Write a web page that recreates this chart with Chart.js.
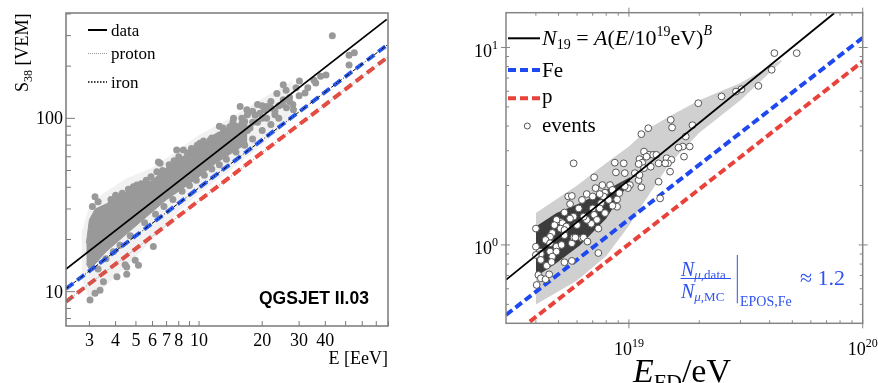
<!DOCTYPE html>
<html><head><meta charset="utf-8">
<script src="https://cdn.jsdelivr.net/npm/chart.js@4"></script>
<style>
html,body{margin:0;padding:0;background:#fff;width:878px;height:383px;overflow:hidden}
#l{position:absolute;left:0;top:0}
#r{position:absolute;left:440px;top:0}
</style></head>
<body>
<canvas id="l" width="440" height="383"></canvas>
<canvas id="r" width="438" height="383"></canvas>
<script>
// ---------------- LEFT PANEL DATA (E in EeV, S38 in VEM) ----------------
const leftLineE   = [2.32, 78.5];
const leftDataS   = [13.5, 372];
const leftIronE   = [2.32, 79.6];
const leftIronS   = [10.4, 267];
const leftProtE   = [2.32, 79.6];
const leftProtS   = [8.76, 226];
// dense core of the event cloud (upper / lower edge on a common E grid)
const cloudE   = [2.9, 3.0, 3.2, 3.6, 4.2, 5.0, 6.0, 7.0, 8.0, 9.0, 10, 12, 14, 17];
const cloudHi  = [19, 26, 30, 32, 36, 40, 44, 52, 58, 64, 70, 77, 86, 98];
const cloudLo  = [14.5, 13.5, 14.5, 17, 20, 24, 29, 34, 38, 42, 46, 55, 62, 72];
// faint error-bar halo around the cloud
const haloE    = [2.75, 3.0, 3.5, 4.5, 6, 8, 10, 14, 20, 28];
const haloHi   = [22, 31, 37, 45, 52, 66, 80, 100, 130, 165];
const haloLo   = [12, 9, 10.5, 14, 20, 29, 37, 50, 70, 100];
// individual (sparse) events
const sparseE = [43.2,51.9,55.0,51.9,40.3,35.3,30.1,25.2,23.5,25.2,28.2,26.1,21.0,19.5,16.9,15.7,14.6,14.0,12.1,11.3,10.1,8.41,7.82,6.52,6.29,5.05,4.86,3.19,3.25,3.02,3.19,3.37,4.52,5.14,6.05,4.06,3.5,6.40,4.96,4.44,4.52,18,20,22,24,27,17.5,19,23,16,13,12.5,11,9.5,26,29,32,
  3.1,3.3,3.5,3.8,4.0,4.3,4.6,5.3,5.6,5.9,6.7,7.2,7.6,8.0,8.8,9.2,9.8,10.5,11.5,12.5,13.5,15,16.5,18.5,20.5,22,17,14.5,13,
  3.3,3.6,3.9,4.2,4.7,5.5,6.2,6.8,7.5,8.3,9.0,9.7,10.6,11.5,12.5,13.5,15,16.5,18,20,22,24,
  15.5,17,19,21,23,18,20,16,25,27,30,28,33,36,38];
const sparseS = [299,231,239,203,178,166,164,156,139,128,112,115,117,107,112,117,100,89.5,78.3,74.9,71.7,65.6,65.6,55,49.2,41.2,40.3,35.3,28.3,8.96,9.79,10.2,13.9,14.2,18.2,12.2,11.4,56,15.2,14.3,12.6,95,100,125,118,132,88,120,105,93,82,90,62,58,145,150,140,
  31,33,30,34,36,37,39,42,44,46,50,54,57,60,63,67,70,74,77,80,84,90,96,104,112,115,105,95,88,
  13.5,15.5,17,18.5,21,25,28,31,34,38,41,44,47,51,54,58,64,70,76,85,92,100,
  80,85,95,100,110,110,118,100,120,125,135,120,150,160,175];
const leftYMajor = [10, 100];
const leftYMinor = [7,8,9,20,30,40,50,60,70,80,90,200,300,400];
const leftXTicks = [3,4,5,6,7,8,9,10,20,30,40,50,60,70,80];
const leftXLabels = [3,4,5,6,7,8,10,20,30,40];
const leftYLabels = [10, 100];
const leftLegend = ['data', 'proton', 'iron'];

// ---------------- RIGHT PANEL DATA (E in EeV -> eV, N19) ----------------
const fitE = [2.98, 75.5];  const fitN = [0.665, 14.9];
const feE  = [2.98, 100];   const feN  = [0.442, 11.2];
const pE   = [3.77, 100];   const pN   = [0.409, 8.5];
const evE = [41.9,52.2,40.8,35.8,30.3,28.7,24.9,19.8,18.7,15.1,
  15.3,17.5,17.0,18.2,16.3,17.2,14.5,15.2,14.7,15.0,
  12.1,11.3,11.6,12.2,12.7,13.1,11.9,11.1,11.4,11.0,
  13.4,14.3,12.4,11.6,10.6,11.0,11.1,13.4,10.1,9.9,
  9.6,9.5,8.7,8.8,9.6,7.1,7.2,7.7,8.3,8.5,
  5.8,8.9,9.1,8.9,8.5,7.9,7.8,7.5,7.6,8.2,
  6.6,7.0,6.3,5.5,5.7,5.6,5.3,6.1,7.0,7.5,
  7.9,7.1,7.3,7.4,6.9,6.6,6.4,6.0,5.8,5.6,
  5.1,5.2,4.9,4.8,5.1,5.4,5.3,4.7,4.6,4.4,
  4.6,4.9,4.6,4.9,4.16,4.7,4.2,4.45,4.2,4.0,
  4.0,4.03,4.1,4.2,4.4,4.56,4.67,5.3,5.7,5.7,
  5.8,5.9,6.3,6.4,6.65,7.4,5.15,5.3,11.3,13.6,
  4.0];
const evN = [9.36,9.36,7.71,6.39,6.15,5.98,5.65,5.22,4.04,4.30,
  3.93,3.54,3.15,3.15,3.11,2.80,2.75,2.70,2.59,2.35,
  3.90,3.64,2.97,2.86,2.86,2.86,2.80,2.72,2.61,2.57,
  2.59,2.59,2.49,2.45,2.31,2.13,2.26,2.09,2.01,1.94,
  1.98,2.59,2.61,2.33,2.31,2.20,1.94,2.01,2.01,1.90,
  2.59,1.70,1.83,1.56,1.58,1.84,1.76,1.81,1.63,1.69,
  1.81,1.76,1.69,1.76,1.77,1.61,1.46,1.53,1.53,1.53,
  1.45,1.42,1.34,1.21,1.28,1.34,1.39,1.26,1.39,1.36,
  1.31,1.29,1.34,1.26,1.21,1.24,1.19,1.15,1.10,1.06,
  1.02,0.98,0.925,0.925,0.925,0.873,0.90,0.785,0.84,1.21,
  0.89,0.627,0.705,0.678,0.670,0.71,0.82,0.817,0.83,1.02,
  1.09,1.09,1.08,1.09,1.04,0.91,1.0,1.12,1.96,1.72,
  0.98];
// uncertainty bands
const lightE  = [4.0, 6.0, 8.0, 10, 12, 15, 20, 30, 45];
const lightHi = [1.45, 2.0, 2.6, 3.15, 3.85, 4.5, 5.4, 6.6, 8.7];
const lightLo = [0.50, 0.66, 0.88, 1.25, 1.75, 2.6, 3.7, 5.4, 8.5];
const darkE   = [4.0, 4.9, 6.2, 8.0, 10.1];
const darkHi  = [1.24, 1.45, 1.63, 1.90, 2.2];
const darkLo  = [0.69, 0.81, 1.0, 1.36, 2.1];
const rightXMajor = [10, 100];
const rightXMinor = [4,5,6,7,8,9,20,30,40,50,60,70,80,90];
const rightYMajor = [1, 10];
const rightYMinor = [0.5,0.6,0.7,0.8,0.9,2,3,4,5,6,7,8,9];
const rightXLabels = [['10','19'], ['10','20']];
const rightYLabels = [['10','0'], ['10','1']];
const rightLegend = ['Fe', 'p', 'events'];

// ---------------- helpers ----------------
const SERIF = "'Liberation Serif','DejaVu Serif',serif";
const R = s => `${s}px ${SERIF}`;
const I = s => `italic ${s}px ${SERIF}`;
const BLUE_TXT = '#2f52f0';
const pts = (xs, ys, k=1) => xs.map((v,i)=>({x:v*k, y:ys[i]}));
function rich(ctx, x, y, parts){
  let cx = x;
  for (const [t,f,dy] of parts){ ctx.font=f; ctx.fillText(t, cx, y+(dy||0)); cx += ctx.measureText(t).width; }
  return cx - x;
}
function richW(ctx, parts){ let w=0; for (const [t,f] of parts){ ctx.font=f; w+=ctx.measureText(t).width;} return w; }
function seg(ctx,x1,y1,x2,y2){ ctx.beginPath(); ctx.moveTo(x1,y1); ctx.lineTo(x2,y2); ctx.stroke(); }
const baseOpts = (pad, xr, yr) => ({
  responsive:false, animation:false, devicePixelRatio:1,
  layout:{padding:pad},
  plugins:{legend:{display:false}, tooltip:{enabled:false}},
  elements:{line:{tension:0}, point:{radius:0}},
  scales:{
    x:{type:'logarithmic', min:xr[0], max:xr[1], display:false},
    y:{type:'logarithmic', min:yr[0], max:yr[1], display:false}
  }
});

// ---------------- LEFT CHART ----------------
const leftDecor = { id:'leftDecor', afterDraw(chart){
  const {ctx, chartArea:a, scales:{x,y}} = chart;
  ctx.save();
  ctx.strokeStyle='#7a7a7a'; ctx.lineWidth=1.5;
  ctx.strokeRect(a.left, a.top, a.right-a.left, a.bottom-a.top);
  ctx.lineWidth=1;
  leftYMajor.forEach(v=>{const p=y.getPixelForValue(v); seg(ctx,a.left,p,a.left+9,p);});
  leftYMinor.forEach(v=>{const p=y.getPixelForValue(v); seg(ctx,a.left,p,a.left+5,p);});
  leftXTicks.forEach(v=>{const p=x.getPixelForValue(v); seg(ctx,p,a.bottom,p,a.bottom-5);});
  ctx.fillStyle='#000'; ctx.font=R(18); ctx.textBaseline='alphabetic';
  ctx.textAlign='right';
  leftYLabels.forEach(v=>ctx.fillText(String(v), a.left-3, y.getPixelForValue(v)+6));
  ctx.textAlign='center';
  leftXLabels.forEach(v=>ctx.fillText(String(v), x.getPixelForValue(v), a.bottom+19.5));
  ctx.textAlign='right';
  ctx.fillText('E [EeV]', a.right, 364);
  // y title
  ctx.save(); ctx.translate(27.5, 92); ctx.rotate(-Math.PI/2); ctx.textAlign='left';
  rich(ctx, 0, 0, [['S',R(18)],['38',R(12),4],[' [VEM]',R(18)]]);
  ctx.restore();
  // legend
  ctx.textAlign='left';
  const ly=[30,53.5,82], lb=[35.5,59,87.5];
  ctx.lineWidth=2; ctx.strokeStyle='#000'; ctx.setLineDash([]); seg(ctx,88,ly[0],107,ly[0]);
  ctx.lineWidth=1; ctx.strokeStyle='#999'; ctx.setLineDash([1,1]); seg(ctx,88,ly[1],107,ly[1]);
  ctx.lineWidth=1.3; ctx.strokeStyle='#000'; ctx.setLineDash([1.5,1.5]); seg(ctx,88,ly[2],107,ly[2]);
  ctx.setLineDash([]);
  ctx.font=R(17);
  leftLegend.forEach((t,i)=>ctx.fillText(t, 111, lb[i]));
  ctx.font="bold 17.5px 'Liberation Sans','DejaVu Sans',sans-serif";
  ctx.fillText('QGSJET II.03', 259, 304);
  ctx.restore();
}};

new Chart(document.getElementById('l'), {
  type:'line',
  data:{datasets:[
    {data:pts(leftLineE,leftDataS), borderColor:'#000', borderWidth:1.8, order:1},
    {data:pts(leftIronE,leftIronS), borderColor:'#000', borderWidth:1, borderDash:[4,2,1,2], order:2},
    {data:pts(leftProtE,leftProtS), borderColor:'#8a8a8a', borderWidth:1, borderDash:[1,1.5], order:2},
    {data:pts(leftIronE,leftIronS), borderColor:'#2a5bef', borderWidth:4, borderDash:[9,5], order:3},
    {data:pts(leftProtE,leftProtS), borderColor:'#e8473d', borderWidth:4, borderDash:[9,5], order:3},
    {data:pts(sparseE,sparseS), showLine:false, pointRadius:3.5, pointBackgroundColor:'#999', pointBorderWidth:0, order:5},
    {data:pts(cloudE,cloudHi), borderColor:'#999', borderWidth:1, backgroundColor:'#999', fill:'+1', order:6},
    {data:pts(cloudE,cloudLo), borderColor:'#999', borderWidth:1, order:6},
    {data:pts(haloE,haloHi), borderColor:'transparent', borderWidth:0, backgroundColor:'#f1f1f1', fill:'+1', order:7},
    {data:pts(haloE,haloLo), borderColor:'transparent', borderWidth:0, order:7}
  ]},
  options: baseOpts({left:66,right:52,top:13,bottom:57}, [2.32,79.6], [6.34,405]),
  plugins:[leftDecor]
});

// ---------------- RIGHT CHART ----------------
const rightDecor = { id:'rightDecor', afterDraw(chart){
  const {ctx, chartArea:a, scales:{x,y}} = chart;
  ctx.save();
  ctx.strokeStyle='#858585'; ctx.lineWidth=1.5;
  ctx.strokeRect(a.left, a.top, a.right-a.left, a.bottom-a.top);
  ctx.lineWidth=1;
  rightXMajor.forEach(v=>{const p=x.getPixelForValue(v*1e18); seg(ctx,p,a.bottom-4,p,a.bottom+5); seg(ctx,p,a.top+4,p,a.top-5);});
  rightXMinor.forEach(v=>{const p=x.getPixelForValue(v*1e18); seg(ctx,p,a.bottom,p,a.bottom-3); seg(ctx,p,a.top,p,a.top+3);});
  rightYMajor.forEach(v=>{const p=y.getPixelForValue(v); seg(ctx,a.left-5,p,a.left+4,p); seg(ctx,a.right+5,p,a.right-4,p);});
  rightYMinor.forEach(v=>{const p=y.getPixelForValue(v); seg(ctx,a.left,p,a.left+3,p); seg(ctx,a.right,p,a.right-3,p);});
  ctx.fillStyle='#000'; ctx.textBaseline='alphabetic'; ctx.textAlign='left';
  rightXLabels.forEach(([b,e],i)=>{
    const parts=[[b,R(18)],[e,R(12),-8]];
    const w=richW(ctx,parts), p=x.getPixelForValue(rightXMajor[i]*1e18);
    rich(ctx, p-w/2, 354.5, parts);
  });
  rightYLabels.forEach(([b,e],i)=>{
    const parts=[[b,R(18)],[e,R(12),-8]];
    const w=richW(ctx,parts), p=y.getPixelForValue(rightYMajor[i]);
    rich(ctx, a.left-8-w, p+9.5, parts);
  });
  // axis titles
  ctx.save(); ctx.translate(462, 213); ctx.rotate(-Math.PI/2);
  rich(ctx, 0, 0, [['N',I(28)],['19',R(18),6]]);
  ctx.restore();
  rich(ctx, 633-440, 382, [['E',I(34)],['FD',R(22),7],['/',R(34)],['eV',R(34)]]);
  // legend
  ctx.lineWidth=2; ctx.strokeStyle='#000'; seg(ctx,68,38.3,100,38.3);
  ctx.lineWidth=4; ctx.setLineDash([8,4]);
  ctx.strokeStyle='#1f49f0'; seg(ctx,68,70,100,70);
  ctx.strokeStyle='#e8423a'; seg(ctx,68,98.3,100,98.3);
  ctx.setLineDash([]);
  ctx.lineWidth=1; ctx.strokeStyle='#555'; ctx.fillStyle='#fff';
  ctx.beginPath(); ctx.arc(87.3,126,3,0,2*Math.PI); ctx.fill(); ctx.stroke();
  ctx.fillStyle='#000';
  rich(ctx, 102, 45, [['N',I(22)],['19',R(14),4],[' = ',R(22)],['A',I(22)],['(',R(22)],['E',I(22)],['/',R(22)],['10',R(22)],['19',R(14),-9],['eV',R(22)],[')',R(22)],['B',I(14),-10]]);
  ctx.font=R(21);
  ctx.fillText(rightLegend[0], 102, 76.7);
  ctx.fillText(rightLegend[1], 102, 103);
  ctx.fillText(rightLegend[2], 102, 131.5);
  // annotation
  ctx.fillStyle=BLUE_TXT; ctx.strokeStyle=BLUE_TXT;
  rich(ctx, 241, 275.5, [['N',I(20)],['μ',I(13),3],[',data',R(13),3]]);
  ctx.lineWidth=1; seg(ctx,240.5,278.5,291,278.5);
  rich(ctx, 241, 297.5, [['N',I(20)],['μ',I(13),3],[',MC',R(13),3]]);
  seg(ctx,297.3,255,297.3,303.3);
  rich(ctx, 300, 305.5, [['EPOS,Fe',R(14)]]);
  rich(ctx, 360, 285, [['≈ 1.2',R(22)]]);
  ctx.restore();
}};

new Chart(document.getElementById('r'), {
  type:'line',
  data:{datasets:[
    {data:pts(fitE,fitN,1e18), borderColor:'#000', borderWidth:1.8, order:1},
    {data:pts(evE,evN,1e18), showLine:false, pointRadius:3.4, pointBackgroundColor:'#fff', pointBorderColor:'#555', pointBorderWidth:1, order:1.5},
    {data:pts(feE,feN,1e18), borderColor:'#1f49f0', borderWidth:4, borderDash:[8,4], order:2},
    {data:pts(pE,pN,1e18), borderColor:'#e8423a', borderWidth:4, borderDash:[8,4], order:2},
    {data:pts(darkE,darkHi,1e18), borderColor:'transparent', borderWidth:0, backgroundColor:'#3c3c3c', fill:'+1', order:4},
    {data:pts(darkE,darkLo,1e18), borderColor:'transparent', borderWidth:0, order:4},
    {data:pts(lightE,lightHi,1e18), borderColor:'transparent', borderWidth:0, backgroundColor:'#d0d0d0', fill:'+1', order:5},
    {data:pts(lightE,lightLo,1e18), borderColor:'transparent', borderWidth:0, order:5}
  ]},
  options: baseOpts({left:66,right:15.3,top:12.7,bottom:59.7}, [2.98e18,1e20], [0.401,15.0]),
  plugins:[rightDecor]
});
</script>
</body></html>
